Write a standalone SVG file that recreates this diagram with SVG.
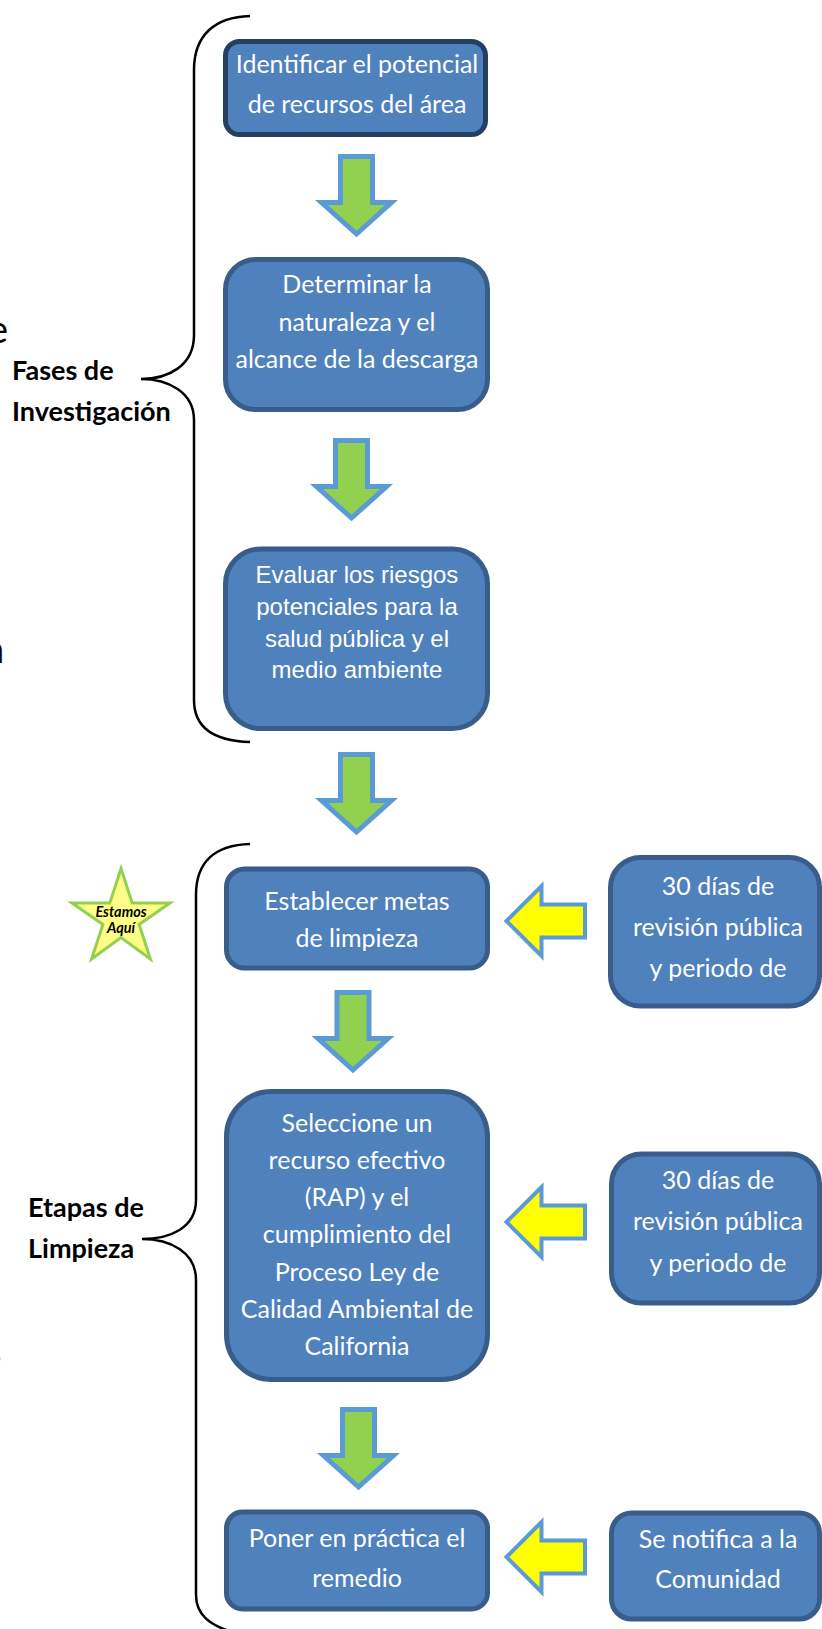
<svg xmlns="http://www.w3.org/2000/svg" width="822" height="1629" viewBox="0 0 822 1629">
<style>
.box{fill:#4F81BD;stroke:#385D8A;stroke-width:5}
.box1{fill:#4F81BD;stroke:#243F60;stroke-width:5}
.t{font-family:Lato,"Liberation Sans",sans-serif;font-size:25px;fill:#FFFFFF;text-anchor:middle}
.ta{font-family:"Liberation Sans",Arial,sans-serif;font-size:24px;fill:#FFFFFF;text-anchor:middle}
.lbl{font-family:Lato,"Liberation Sans",sans-serif;font-size:27px;font-weight:bold;fill:#000000}
.frag{font-family:Lato,"Liberation Sans",sans-serif;font-size:38px;fill:#000000}
.star-t{font-family:Lato,"Liberation Sans",sans-serif;font-size:14.5px;font-weight:bold;font-style:italic;fill:#000000;text-anchor:middle}
.brace{fill:none;stroke:#000000;stroke-width:2.5}
.garrow{fill:#92D050;stroke:#5B9BD5;stroke-width:5}
.yarrow{fill:#FFFF00;stroke:#5B9BD5;stroke-width:4}
</style>
<defs>
<path id="gA" d="M22.5,2.5 H54.5 V48.5 H73.5 L38.5,80 L3.5,48.5 H22.5 Z"/>
<path id="yA" d="M2.5,0 L37.5,-35 V-16.5 H81 V16.5 H37.5 V35 Z"/>
</defs>
<rect width="822" height="1629" fill="#FFFFFF"/>

<g id="fragments">
<text class="frag" x="-12" y="343">e</text>
<text class="frag" x="-17" y="663">n</text>
<text class="frag" x="-15" y="1365">s</text>
</g>

<g id="brace-investigacion">
<path class="brace" d="M250,16 C215,17 194,35 194,70 L194,335 C194,366 168,379 141,379 C168,379 194,392 194,420 L194,700 C194,728 215,741 250,742"/>
<text class="lbl" x="12" y="380">Fases de</text>
<text class="lbl" x="12" y="421">Investigación</text>
</g>

<g id="brace-limpieza">
<path class="brace" d="M250,844 C215,845 196,862 196,895 L196,1200 C196,1228 170,1239 142,1239 C170,1239 196,1252 196,1280 L196,1595 C196,1615 210,1625 232,1632"/>
<text class="lbl" x="28" y="1217">Etapas de</text>
<text class="lbl" x="28" y="1258">Limpieza</text>
</g>

<g id="star">
<polygon points="121,868.5 132.2,903.1 170,903 139.1,924.4 150.4,959 121,937.5 91.6,959 102.9,924.4 72,903 109.8,903.1" fill="#FFFF88" stroke="#92D050" stroke-width="3" stroke-linejoin="miter"/>
<text class="star-t" x="121" y="916.5">Estamos</text>
<text class="star-t" x="121" y="932.5">Aquí</text>
</g>

<g id="node-identificar">
<rect class="box1" x="225.5" y="41.5" width="260" height="93" rx="14"/>
<text class="t" x="357" y="73">Identificar el potencial</text>
<text class="t" x="357" y="113">de recursos del área</text>
</g>

<g id="node-determinar">
<rect class="box" x="225.5" y="259.5" width="262" height="150" rx="30"/>
<text class="t" x="357" y="293">Determinar la</text>
<text class="t" x="357" y="331">naturaleza y el</text>
<text class="t" x="357" y="368">alcance de la descarga</text>
</g>

<g id="node-evaluar">
<rect class="box" x="225.5" y="549" width="262" height="179.5" rx="35"/>
<text class="ta" x="357" y="583">Evaluar los riesgos</text>
<text class="ta" x="357" y="615">potenciales para la</text>
<text class="ta" x="357" y="647">salud pública y el</text>
<text class="ta" x="357" y="678">medio ambiente</text>
</g>

<g id="node-establecer">
<rect class="box" x="226.5" y="869" width="261" height="99" rx="18"/>
<text class="t" x="357" y="910">Establecer metas</text>
<text class="t" x="357" y="947">de limpieza</text>
</g>

<g id="node-seleccione">
<rect class="box" x="226.5" y="1091.5" width="261" height="288" rx="45"/>
<text class="t" x="357" y="1131.5">Seleccione un</text>
<text class="t" x="357" y="1168.5">recurso efectivo</text>
<text class="t" x="357" y="1205.5">(RAP) y el</text>
<text class="t" x="357" y="1243">cumplimiento del</text>
<text class="t" x="357" y="1281">Proceso Ley de</text>
<text class="t" x="357" y="1318">Calidad Ambiental de</text>
<text class="t" x="357" y="1355">California</text>
</g>

<g id="node-poner">
<rect class="box" x="226.5" y="1512" width="261" height="97" rx="16"/>
<text class="t" x="357" y="1547">Poner en práctica el</text>
<text class="t" x="357" y="1587">remedio</text>
</g>

<g id="node-revision1">
<rect class="box" x="610.5" y="857.5" width="209" height="148.5" rx="30"/>
<text class="t" x="718" y="895">30 días de</text>
<text class="t" x="718" y="936">revisión pública</text>
<text class="t" x="718" y="977">y periodo de</text>
</g>

<g id="node-revision2">
<rect class="box" x="611.5" y="1154" width="208" height="149" rx="30"/>
<text class="t" x="718" y="1189">30 días de</text>
<text class="t" x="718" y="1230">revisión pública</text>
<text class="t" x="718" y="1272">y periodo de</text>
</g>

<g id="node-notifica">
<rect class="box" x="611.5" y="1513" width="208" height="106" rx="20"/>
<text class="t" x="718" y="1548">Se notifica a la</text>
<text class="t" x="718" y="1588">Comunidad</text>
</g>

<g id="connectors">
<use href="#gA" class="garrow" transform="translate(318,154)"/>
<use href="#gA" class="garrow" transform="translate(313,438)"/>
<use href="#gA" class="garrow" transform="translate(318,752)"/>
<use href="#gA" class="garrow" transform="translate(314.5,990)"/>
<use href="#gA" class="garrow" transform="translate(320,1407)"/>
<use href="#yA" class="yarrow" transform="translate(504,921)"/>
<use href="#yA" class="yarrow" transform="translate(504,1222)"/>
<use href="#yA" class="yarrow" transform="translate(504,1557)"/>
</g>
</svg>
